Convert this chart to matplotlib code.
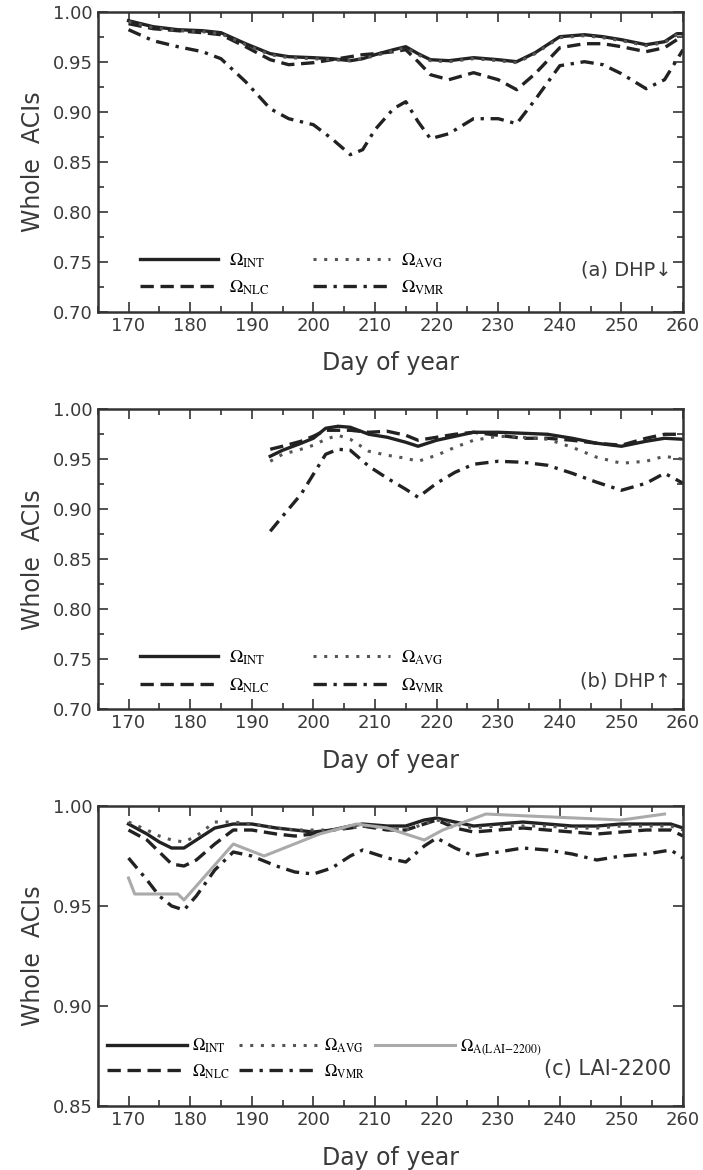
import matplotlib.pyplot as plt
from matplotlib.ticker import MultipleLocator

# (a) DHP down
days_a = [170, 174, 178, 182, 185, 189, 193, 196, 200, 203, 206, 208, 210, 213, 215,
          217, 219, 222, 226, 230, 233, 236, 240, 244, 247, 250, 254, 257, 259, 260]
int_a = [0.991, 0.985, 0.982, 0.981, 0.979, 0.968, 0.958, 0.955, 0.954, 0.953, 0.951, 0.953, 0.957, 0.962, 0.965,
         0.958, 0.952, 0.951, 0.954, 0.952, 0.950, 0.959, 0.975, 0.977, 0.975, 0.972, 0.967, 0.970, 0.978, 0.978]
nlc_a = [0.988, 0.983, 0.981, 0.979, 0.977, 0.965, 0.952, 0.947, 0.949, 0.952, 0.955, 0.957, 0.958, 0.960, 0.962,
         0.950, 0.937, 0.932, 0.939, 0.932, 0.922, 0.938, 0.964, 0.968, 0.968, 0.965, 0.960, 0.964, 0.972, 0.977]
avg_a = [0.990, 0.984, 0.981, 0.980, 0.978, 0.967, 0.957, 0.954, 0.953, 0.952, 0.951, 0.953, 0.956, 0.961, 0.964,
         0.957, 0.951, 0.950, 0.953, 0.951, 0.949, 0.958, 0.974, 0.976, 0.974, 0.971, 0.966, 0.969, 0.977, 0.977]
vmr_a = [0.982, 0.971, 0.965, 0.960, 0.953, 0.930, 0.903, 0.893, 0.887, 0.873, 0.857, 0.862, 0.882, 0.903, 0.910,
         0.890, 0.873, 0.878, 0.893, 0.893, 0.888, 0.912, 0.946, 0.950, 0.947, 0.938, 0.923, 0.932, 0.952, 0.962]

# (b) DHP up
days_b = [193, 195, 198, 200, 202, 204, 206, 209, 212, 215, 217, 220, 223, 226, 230, 234, 238, 242, 246, 250, 254, 257, 260]
int_b = [0.953, 0.959, 0.966, 0.971, 0.981, 0.983, 0.982, 0.975, 0.972, 0.967, 0.963, 0.969, 0.973, 0.977, 0.977,
         0.976, 0.975, 0.971, 0.966, 0.963, 0.968, 0.971, 0.970]
nlc_b = [0.960, 0.963, 0.968, 0.973, 0.979, 0.979, 0.979, 0.977, 0.978, 0.974, 0.969, 0.972, 0.975, 0.977, 0.974,
         0.971, 0.971, 0.969, 0.966, 0.964, 0.971, 0.975, 0.975]
avg_b = [0.948, 0.955, 0.960, 0.964, 0.970, 0.974, 0.970, 0.958, 0.954, 0.951, 0.948, 0.954, 0.962, 0.969, 0.973,
         0.972, 0.970, 0.962, 0.952, 0.946, 0.948, 0.953, 0.950]
vmr_b = [0.878, 0.893, 0.915, 0.935, 0.955, 0.960, 0.959, 0.943, 0.931, 0.920, 0.912, 0.926, 0.937, 0.945, 0.948,
         0.947, 0.944, 0.936, 0.927, 0.919, 0.926, 0.936, 0.926]

# (c) LAI-2200
days_c = [170, 173, 175, 177, 179, 181, 184, 187, 190, 194, 197, 200, 203, 206, 208, 212, 215,
          218, 220, 223, 226, 230, 234, 238, 242, 246, 250, 254, 258, 260]
int_c = [0.991, 0.986, 0.982, 0.979, 0.979, 0.983, 0.989, 0.991, 0.991, 0.989, 0.988, 0.987, 0.988, 0.990, 0.991,
         0.990, 0.990, 0.993, 0.994, 0.992, 0.990, 0.991, 0.992, 0.991, 0.990, 0.990, 0.991, 0.991, 0.991, 0.989]
avg_c = [0.992, 0.988, 0.985, 0.983, 0.982, 0.985, 0.992, 0.992, 0.991, 0.989, 0.988, 0.988, 0.988, 0.989, 0.990,
         0.989, 0.988, 0.991, 0.993, 0.991, 0.989, 0.990, 0.990, 0.990, 0.989, 0.989, 0.990, 0.990, 0.990, 0.988]
nlc_c = [0.988, 0.983, 0.977, 0.971, 0.970, 0.973, 0.981, 0.988, 0.988, 0.986, 0.985, 0.986, 0.988, 0.989, 0.990,
         0.988, 0.988, 0.991, 0.993, 0.989, 0.987, 0.988, 0.989, 0.988, 0.987, 0.986, 0.987, 0.988, 0.988, 0.985]
vmr_c = [0.974, 0.963, 0.955, 0.950, 0.948, 0.955, 0.968, 0.977, 0.975, 0.970, 0.967, 0.966, 0.969, 0.975, 0.978,
         0.974, 0.972, 0.980, 0.984, 0.979, 0.975, 0.977, 0.979, 0.978, 0.976, 0.973, 0.975, 0.976, 0.978, 0.974]
days_lai = [170, 171, 178, 179, 187, 192, 201, 207, 212, 218, 221, 228, 235, 250, 257]
lai_c = [0.964, 0.956, 0.956, 0.953, 0.981, 0.975, 0.986, 0.991, 0.989, 0.983, 0.988, 0.996, 0.995, 0.993, 0.996]

labels = {
    'int': r'$\Omega_{\mathrm{INT}}$',
    'nlc': r'$\Omega_{\mathrm{NLC}}$',
    'avg': r'$\Omega_{\mathrm{AVG}}$',
    'vmr': r'$\Omega_{\mathrm{VMR}}$',
    'lai': r'$\Omega_{\mathrm{A(LAI\!-\!2200)}}$',
}

plt.rcParams['mathtext.fontset'] = 'stix'
plt.rcParams['font.family'] = 'DejaVu Sans'

dark = '#222222'
txt = '#3a3a3a'


def style_axes(ax, ymin, yticks, minor):
    ax.set_xlim(165, 260)
    ax.set_ylim(ymin, 1.0)
    ax.xaxis.set_major_locator(MultipleLocator(10))
    ax.xaxis.set_minor_locator(MultipleLocator(5))
    ax.set_yticks(yticks)
    if minor:
        ax.yaxis.set_minor_locator(MultipleLocator(0.025))
    ax.yaxis.set_major_formatter(plt.FormatStrFormatter('%.2f'))
    ax.tick_params(which='both', direction='in', top=True, right=True, colors='#333333',
                   labelcolor=txt, labelsize=13, width=1.2)
    ax.tick_params(which='major', length=7)
    ax.tick_params(which='minor', length=4)
    for s in ax.spines.values():
        s.set_linewidth(1.8)
        s.set_color('#333333')
    ax.set_xlabel('Day of year', fontsize=17, color=txt, labelpad=12)
    ax.set_ylabel('Whole  ACIs', fontsize=17, color=txt, labelpad=6)


def draw_four(ax, x, a, b, c, d):
    ax.plot(x, a, color=dark, lw=2.4, ls='-', label=labels['int'])
    ax.plot(x, b, color=dark, lw=2.4, ls=(0, (4, 2)), label=labels['nlc'])
    ax.plot(x, c, color='#555555', lw=2.2, ls=(0, (1, 2.5)), label=labels['avg'])
    ax.plot(x, d, color=dark, lw=2.4, ls=(0, (4, 2, 1, 2)), label=labels['vmr'])


fig = plt.figure(figsize=(7.03, 11.7), dpi=100)

ax1 = fig.add_axes([0.139, 0.7336, 0.8326, 0.2564])
draw_four(ax1, days_a, int_a, nlc_a, avg_a, vmr_a)
style_axes(ax1, 0.70, [0.70, 0.75, 0.80, 0.85, 0.90, 0.95, 1.00], True)
ax1.legend(loc='lower left', bbox_to_anchor=(0.045, -0.005), ncol=2, frameon=False, fontsize=13,
           handlelength=4.3, columnspacing=2.4, labelspacing=0.5, handletextpad=0.6)
ax1.text(0.98, 0.14, '(a) DHP\u2193', transform=ax1.transAxes, ha='right', va='center',
         fontsize=14, color=txt)

ax2 = fig.add_axes([0.139, 0.3938, 0.8326, 0.2564])
draw_four(ax2, days_b, int_b, nlc_b, avg_b, vmr_b)
style_axes(ax2, 0.70, [0.70, 0.75, 0.80, 0.85, 0.90, 0.95, 1.00], True)
ax2.legend(loc='lower left', bbox_to_anchor=(0.045, -0.005), ncol=2, frameon=False, fontsize=13,
           handlelength=4.3, columnspacing=2.4, labelspacing=0.5, handletextpad=0.6)
ax2.text(0.98, 0.095, '(b) DHP\u2191', transform=ax2.transAxes, ha='right', va='center',
         fontsize=14, color=txt)

ax3 = fig.add_axes([0.139, 0.0547, 0.8326, 0.2564])
draw_four(ax3, days_c, int_c, nlc_c, avg_c, vmr_c)
ax3.plot(days_lai, lai_c, color='#aaaaaa', lw=2.2, label=labels['lai'])
style_axes(ax3, 0.85, [0.85, 0.90, 0.95, 1.00], False)
ax3.legend(loc='lower left', bbox_to_anchor=(-0.01, 0.035), ncol=3, frameon=False, fontsize=12,
           handlelength=4.8, columnspacing=0.6, labelspacing=0.4, handletextpad=0.3)
ax3.text(0.98, 0.125, '(c) LAI-2200', transform=ax3.transAxes, ha='right', va='center',
         fontsize=15, color=txt)

plt.savefig('out.png', dpi=100)
